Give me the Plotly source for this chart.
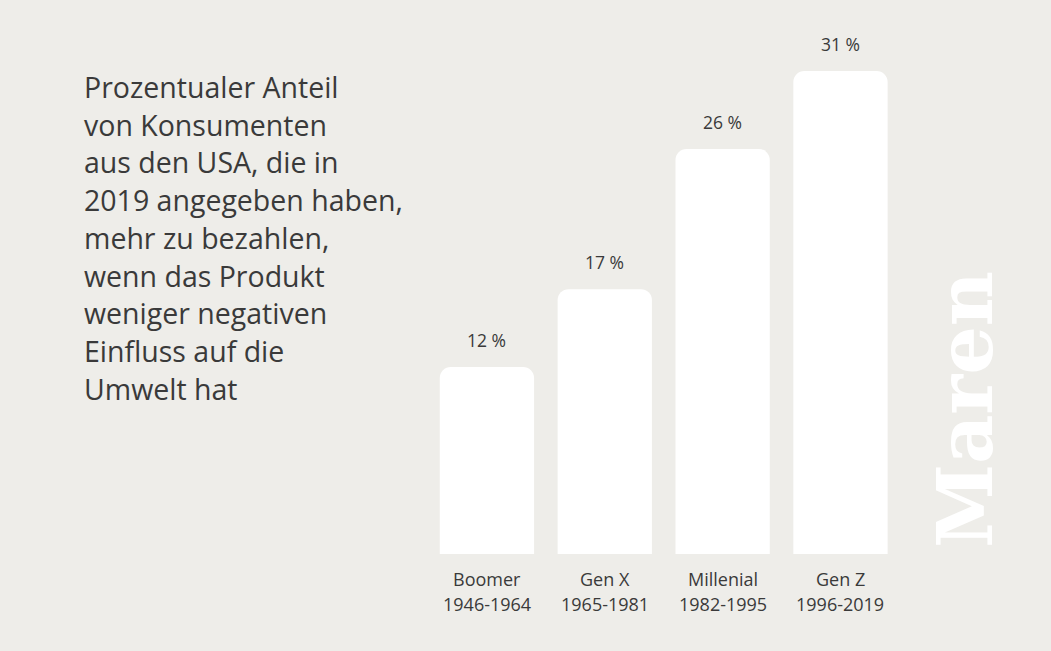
import plotly.graph_objects as go

categories = ["Boomer", "Gen X", "Millenial", "Gen Z"]
years = ["1946-1964", "1965-1981", "1982-1995", "1996-2019"]
values = [12, 17, 26, 31]
value_labels = ["12 %", "17 %", "26 %", "31 %"]
title_lines = [
    "Prozentualer Anteil",
    "von Konsumenten",
    "aus den USA, die in",
    "2019 angegeben haben,",
    "mehr zu bezahlen,",
    "wenn das Produkt",
    "weniger negativen",
    "Einfluss auf die",
    "Umwelt hat",
]

BG = "#EEEDE9"
TXT = "#3A3A3A"
FONT = "Open Sans"

W, H = 1051, 651
y0_px = 554          # pixel (from top) of value 0
ppu = 15.58          # pixels per unit
ymax = 35
top_px = y0_px - ymax * ppu

fig = go.Figure()
fig.add_trace(go.Bar(
    x=categories, y=values, marker=dict(color="white", line=dict(width=0)),
    width=0.8, hoverinfo="skip",
))

annotations = []
for c, v, lab, yr in zip(categories, values, value_labels, years):
    annotations.append(dict(x=c, y=v, xref="x", yref="y", text=lab, showarrow=False,
                            yanchor="bottom", yshift=13,
                            font=dict(family=FONT, size=17.5, color=TXT)))
    annotations.append(dict(x=c, y=0, xref="x", yref="y", text=c, showarrow=False,
                            yanchor="middle", yshift=-25,
                            font=dict(family=FONT, size=18, color=TXT)))
    annotations.append(dict(x=c, y=0, xref="x", yref="y", text=yr, showarrow=False,
                            yanchor="middle", yshift=-50,
                            font=dict(family=FONT, size=18, color=TXT)))

for i, line in enumerate(title_lines):
    ypx = 87 + i * 37.7
    annotations.append(dict(x=82 / W, y=1 - ypx / H, xref="paper", yref="paper",
                            text=line, showarrow=False, xanchor="left", yanchor="middle",
                            font=dict(family=FONT, size=28.5, color=TXT)))

annotations.append(dict(x=965 / W, y=1 - 410 / H, xref="paper", yref="paper",
                        text="<b>Maren</b>", showarrow=False, textangle=-90,
                        xanchor="center", yanchor="middle",
                        font=dict(family="DejaVu Serif", size=76, color="white")))

fig.update_layout(
    width=W, height=H,
    margin=dict(l=0, r=0, t=0, b=0),
    paper_bgcolor=BG, plot_bgcolor=BG,
    showlegend=False,
    barcornerradius=11,
    xaxis=dict(domain=[428 / W, 899.4 / W], range=[-0.5, 3.5], showticklabels=False,
               showgrid=False, zeroline=False, showline=False, fixedrange=True),
    yaxis=dict(domain=[1 - y0_px / H, 1 - top_px / H], range=[0, ymax], showticklabels=False,
               showgrid=False, zeroline=False, showline=False, fixedrange=True),
    annotations=annotations,
)

fig.write_html("out.html")
